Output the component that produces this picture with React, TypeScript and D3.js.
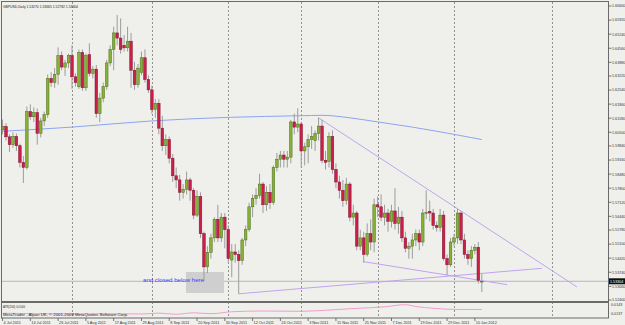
import React from "react";
import * as d3 from "d3";

const W = 625, H = 325;

const openP = [
1.6062,1.6078,1.6028,1.5990,1.6030,1.5985,1.5905,1.5880,1.6150,1.6125,
1.6145,1.6045,1.6105,1.6135,1.6310,1.6290,1.6330,1.6420,1.6365,1.6385,
1.6420,1.6318,1.6270,1.6436,1.6265,1.6425,1.6335,1.6355,1.6140,1.6215,
1.6270,1.6385,1.6450,1.6530,1.6505,1.6470,1.6458,1.6490,1.6350,1.6280,
1.6340,1.6410,1.6305,1.6255,1.6160,1.6190,1.6070,1.5985,1.6015,1.5925,
1.5840,1.5820,1.5760,1.5775,1.5820,1.5770,1.5650,1.5740,1.5560,1.5400,
1.5470,1.5540,1.5630,1.5540,1.5640,1.5580,1.5433,1.5472,1.5460,1.5430,
1.5530,1.5580,1.5690,1.5730,1.5745,1.5800,1.5700,1.5760,1.5710,1.5880,
1.5920,1.5940,1.5920,1.5930,1.6100,1.6075,1.6090,1.5960,1.5980,1.6015,
1.6010,1.6045,1.6080,1.5915,1.5910,1.6030,1.5870,1.5810,1.5770,1.5720,
1.5800,1.5640,1.5660,1.5500,1.5540,1.5460,1.5560,1.5520,1.5700,1.5690,
1.5640,1.5660,1.5620,1.5670,1.5610,1.5640,1.5540,1.5490,1.5500,1.5530,
1.5560,1.5520,1.5658,1.5668,1.5660,1.5600,1.5590,1.5650,1.5440,1.5410,
1.5520,1.5540,1.5660,1.5530,1.5460,1.5440,1.5480,1.5495,1.53270];

const highP = [
1.6112,1.6094,1.6040,1.6050,1.6044,1.5995,1.5935,1.6175,1.6185,1.6170,
1.6165,1.6120,1.6150,1.6330,1.6340,1.6360,1.6460,1.6440,1.6400,1.6430,
1.6470,1.6335,1.6450,1.6450,1.6430,1.6480,1.6370,1.6375,1.6240,1.6290,
1.6400,1.6470,1.6560,1.6617,1.6600,1.6520,1.6560,1.6530,1.6390,1.6380,
1.6440,1.6450,1.6325,1.6275,1.6210,1.6210,1.6130,1.6040,1.6030,1.5945,
1.5880,1.5845,1.5800,1.5860,1.5830,1.5780,1.5770,1.5760,1.5570,1.5500,
1.5560,1.5640,1.5700,1.5660,1.5660,1.5600,1.5510,1.5510,1.5480,1.5540,
1.5600,1.5710,1.5750,1.5780,1.5850,1.5810,1.5790,1.5800,1.5890,1.5950,
1.5960,1.5960,1.5960,1.6110,1.6140,1.6166,1.6100,1.6000,1.6040,1.6080,
1.6060,1.6120,1.6110,1.5960,1.6050,1.6060,1.5900,1.5840,1.5820,1.5830,
1.5810,1.5700,1.5670,1.5580,1.5570,1.5610,1.5630,1.5730,1.5740,1.5750,
1.5700,1.5680,1.5700,1.5780,1.5690,1.5670,1.5570,1.5520,1.5560,1.5580,
1.5580,1.5680,1.5770,1.5720,1.5680,1.5620,1.5680,1.5670,1.5460,1.5540,
1.5560,1.5680,1.5670,1.5560,1.5480,1.5500,1.5510,1.5520,1.53665];

const lowP = [
1.6040,1.6010,1.5955,1.5975,1.5960,1.5880,1.5805,1.5870,1.6110,1.6100,
1.5990,1.6025,1.6080,1.6120,1.6270,1.6265,1.6280,1.6350,1.6322,1.6360,
1.6260,1.6270,1.6260,1.6250,1.6250,1.6320,1.6310,1.6120,1.6100,1.6195,
1.6255,1.6370,1.6350,1.6470,1.6430,1.6440,1.6440,1.6265,1.6255,1.6265,
1.6325,1.6290,1.6240,1.6140,1.6120,1.6040,1.5960,1.5940,1.5900,1.5810,
1.5780,1.5720,1.5730,1.5750,1.5720,1.5630,1.5640,1.5540,1.5330,1.5370,
1.5440,1.5520,1.5520,1.5520,1.5490,1.5420,1.5350,1.5420,1.5270,1.5410,
1.5500,1.5570,1.5640,1.5700,1.5730,1.5660,1.5670,1.5680,1.5700,1.5860,
1.5880,1.5880,1.5880,1.5900,1.6040,1.6050,1.5880,1.5890,1.5900,1.5970,
1.5960,1.6010,1.5900,1.5870,1.5880,1.5850,1.5780,1.5730,1.5690,1.5700,
1.5620,1.5600,1.5480,1.5480,1.5420,1.5450,1.5480,1.5470,1.5640,1.5620,
1.5600,1.5570,1.5590,1.5580,1.5560,1.5520,1.5470,1.5440,1.5440,1.5500,
1.5480,1.5500,1.5630,1.5620,1.5580,1.5570,1.5570,1.5430,1.5360,1.5400,
1.5500,1.5510,1.5510,1.5440,1.5410,1.5400,1.5460,1.5320,1.52782];

const closeP = [
1.6078,1.6028,1.5990,1.6030,1.5985,1.5905,1.5880,1.6150,1.6125,1.6145,
1.6045,1.6105,1.6135,1.6310,1.6290,1.6330,1.6420,1.6365,1.6385,1.6420,
1.6318,1.6290,1.6436,1.6265,1.6420,1.6335,1.6355,1.6140,1.6215,1.6270,
1.6385,1.6450,1.6530,1.6505,1.6450,1.6458,1.6490,1.6350,1.6280,1.6360,
1.6410,1.6305,1.6255,1.6160,1.6190,1.6070,1.5985,1.6015,1.5925,1.5840,
1.5820,1.5760,1.5775,1.5820,1.5770,1.5650,1.5740,1.5560,1.5400,1.5470,
1.5540,1.5630,1.5540,1.5640,1.5580,1.5440,1.5472,1.5460,1.5430,1.5530,
1.5580,1.5690,1.5730,1.5745,1.5800,1.5700,1.5760,1.5710,1.5880,1.5920,
1.5940,1.5920,1.5930,1.6100,1.6075,1.6090,1.5960,1.5980,1.6015,1.6030,
1.6045,1.6080,1.5915,1.5905,1.6030,1.5870,1.5810,1.5770,1.5720,1.5800,
1.5640,1.5660,1.5500,1.5540,1.5460,1.5560,1.5520,1.5700,1.5690,1.5640,
1.5660,1.5620,1.5670,1.5610,1.5640,1.5540,1.5490,1.5500,1.5530,1.5560,
1.5520,1.5660,1.5664,1.5660,1.5600,1.5590,1.5650,1.5440,1.5410,1.5520,
1.5540,1.5660,1.5530,1.5460,1.5440,1.5480,1.5495,1.5335,1.53304];

// 200-period moving average, read at a few bars
const maIdx = [0, 20, 43, 65, 86, 92, 100, 108, 118, 130, 138];
const maVal = [1.6055, 1.6075, 1.6105, 1.6122, 1.6130, 1.6132, 1.6120, 1.6100, 1.6075, 1.6040, 1.6015];

// ATR(200) sub-window
const atrIdx = [0,10,20,30,40,45,50,55,60,66,75,86,93,100,106,110,116,119,124,131,138];
const atrVal = [0.01375,0.01372,0.01370,0.01372,0.01370,0.01376,0.01368,0.01378,0.01372,0.01385,0.01390,0.01388,0.01395,0.01405,0.01412,0.01418,0.01432,0.01420,0.01408,0.01400,0.01400];

const priceTicks = [1.66600,1.65920,1.65240,1.64560,1.63880,1.63220,1.62540,1.61860,1.61180,1.60500,1.59840,1.59160,1.58480,1.57800,1.57120,1.56440,1.55780,1.55100,1.54420,1.53740,1.53060,1.52400];
const atrTicks = [0.0143, 0.0137];

const dateLabels = ["4 Jul 2011","14 Jul 2011","26 Jul 2011","5 Aug 2011","17 Aug 2011","29 Aug 2011","8 Sep 2011","20 Sep 2011","30 Sep 2011","12 Oct 2011","24 Oct 2011","3 Nov 2011","15 Nov 2011","25 Nov 2011","7 Dec 2011","19 Dec 2011","29 Dec 2011","10 Jan 2012"];
const dateLabelIdx = [0,8,16,24,32,40,48,56,64,72,80,88,96,104,112,120,128,136];

const monthGridIdx = [20, 43, 65, 86, 108, 130, 158.2];

// trend lines: [startBar, startPrice, endBar, endPrice]
const trendLines = [
  [91, 1.6120, 165.4, 1.5303],
  [104, 1.5425, 145.3, 1.5314],
  [68, 1.5270, 155.3, 1.5393],
];

const bidPrice = 1.53304;
const title = "GBPUSD,Daily  1.53270 1.53665 1.52782 1.53304";

export default function App() {
  const x = d3.scaleLinear().domain([0, 138]).range([2.54, 481.8]);
  const y = d3.scaleLinear().domain([1.524, 1.666]).range([300, 6]);
  const ya = d3.scaleLinear().domain([0.0137, 0.0143]).range([314, 305]);
  const axisX = 608.5;
  const font = "'Liberation Sans', Arial, sans-serif";

  const maLine = d3.line<number>().x((_, k) => x(maIdx[k])).y((v) => y(v)).curve(d3.curveMonotoneX);
  const atrLine = d3.line<number>().x((_, k) => x(atrIdx[k])).y((v) => ya(v)).curve(d3.curveMonotoneX);

  const bw = 2.6;
  return (
    <svg width={W} height={H} style={{ position: "absolute", left: 0, top: 0, background: "#eff0ec" }} xmlns="http://www.w3.org/2000/svg">
      <rect x={0} y={0} width={W} height={H} fill="#eff0ec" />
      {/* month grid */}
      {monthGridIdx.map((m, k) => (
        <line key={"g" + k} x1={Math.round(x(m)) + 0.5} x2={Math.round(x(m)) + 0.5} y1={2} y2={318} stroke="#7a7a7a" strokeWidth={0.8} strokeDasharray="2,2" />
      ))}
      {/* bid line */}
      <line x1={1} x2={axisX} y1={y(bidPrice)} y2={y(bidPrice)} stroke="#a8a8a8" strokeWidth={0.8} />
      {/* annotation box */}
      <rect x={186} y={272} width={38} height={21} fill="#cfcfcf" />
      {/* MA */}
      <path d={maLine(maVal) || ""} fill="none" stroke="#8ea4f2" strokeWidth={1} />
      {/* trend lines */}
      {trendLines.map((t, k) => (
        <line key={"t" + k} x1={x(t[0])} y1={y(t[1])} x2={x(t[2])} y2={y(t[3])} stroke="#c3a2ef" strokeWidth={1} />
      ))}
      {/* candles */}
      {closeP.map((c, i) => {
        const o = openP[i];
        const hi = Math.max(highP[i], o, c), lo = Math.min(lowP[i], o, c);
        const up = c >= o;
        const cx = x(i);
        const top = y(Math.max(o, c)), bot = y(Math.min(o, c));
        const h = Math.max(bot - top, 0.8);
        return (
          <g key={"c" + i}>
            <line x1={cx} x2={cx} y1={y(hi)} y2={y(lo)} stroke="#9c9c9c" strokeWidth={1} />
            <rect x={cx - bw / 2} y={top} width={bw} height={h} fill={up ? "#86b236" : "#cc1f48"} stroke={up ? "#4f6b1e" : "#7e1230"} strokeWidth={0.5} />
          </g>
        );
      })}
      {/* annotation text */}
      <text x={143} y={281.5} fontFamily={font} fontSize={6.2} fill="#3b3bff" textLength={61} lengthAdjust="spacingAndGlyphs">and closed below here</text>
      {/* title */}
      <text x={3} y={7.5} fontFamily={font} fontSize={3.9} fill="#222" textLength={75} lengthAdjust="spacingAndGlyphs">{title}</text>
      {/* frames */}
      <rect x={1.5} y={1.5} width={axisX - 1.5} height={300} fill="none" stroke="#6a6a6a" strokeWidth={1} />
      <rect x={1.5} y={302.5} width={axisX - 1.5} height={15.5} fill="none" stroke="#6a6a6a" strokeWidth={1} />
      {/* ATR */}
      <path d={atrLine(atrVal) || ""} fill="none" stroke="#f59ad2" strokeWidth={1} />
      <text x={3} y={307.5} fontFamily={font} fontSize={3.9} fill="#222" textLength={22} lengthAdjust="spacingAndGlyphs">ATR(200) 0.0140</text>
      <text x={3} y={316} fontFamily={font} fontSize={3.9} fill="#222" textLength={125} lengthAdjust="spacingAndGlyphs">MetaTrader - Alpari UK, © 2001-2009 MetaQuotes Software Corp.</text>
      {/* price axis */}
      {priceTicks.map((p, k) => (
        <g key={"p" + k}>
          <line x1={axisX} x2={axisX + 3} y1={y(p)} y2={y(p)} stroke="#555" strokeWidth={0.8} />
          <text x={612} y={y(p) + 1.4} fontFamily={font} fontSize={3.7} fill="#333">{p.toFixed(5)}</text>
        </g>
      ))}
      <rect x={609} y={y(bidPrice) - 3} width={16} height={6} fill="#111" />
      <text x={610} y={y(bidPrice) + 1.4} fontFamily={font} fontSize={3.7} fill="#fff">{bidPrice.toFixed(5)}</text>
      {atrTicks.map((p, k) => (
        <g key={"a" + k}>
          <text x={611} y={ya(p) + 1.4} fontFamily={font} fontSize={3.7} fill="#333">{p.toFixed(4)}</text>
        </g>
      ))}
      {/* date axis */}
      {dateLabels.map((d, k) => (
        <g key={"d" + k}>
          <line x1={x(dateLabelIdx[k])} x2={x(dateLabelIdx[k])} y1={318} y2={321} stroke="#555" strokeWidth={0.8} />
          <text x={x(dateLabelIdx[k]) + 1} y={323.8} fontFamily={font} fontSize={3.8} fill="#333">{d}</text>
        </g>
      ))}
    </svg>
  );
}
